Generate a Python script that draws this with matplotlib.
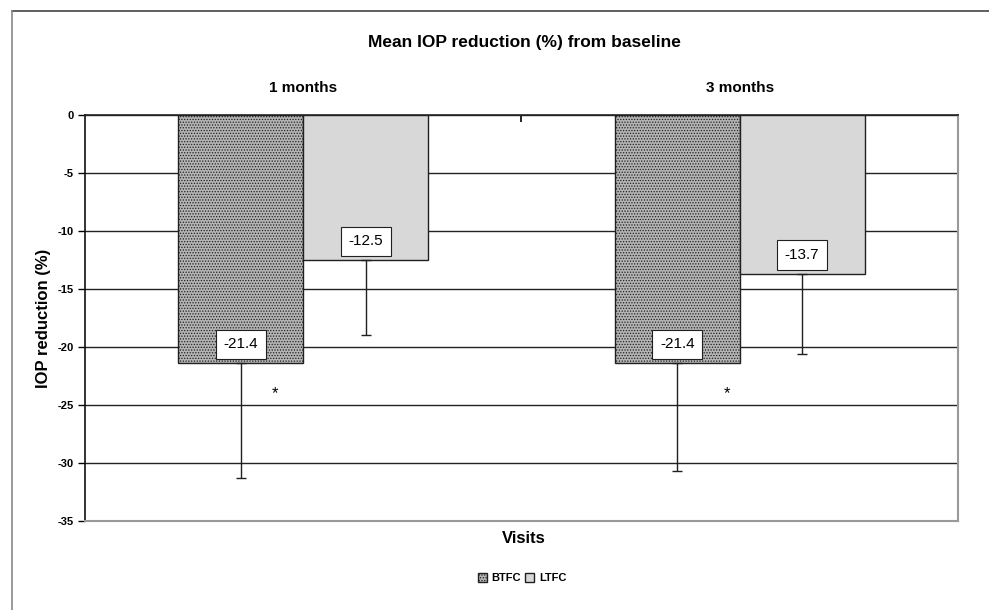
import matplotlib.pyplot as plt
from matplotlib.lines import Line2D

plt.rcParams['font.family'] = ['Liberation Sans', 'DejaVu Sans']
plt.rcParams['hatch.linewidth'] = 0.6

visits = ['1 months', '3 months']
btfc = [-21.4, -21.4]
ltfc = [-12.5, -13.7]
btfc_err = [9.9, 9.3]
ltfc_err = [6.5, 6.9]
star_y = [-24.0, -24.0]
yticks = [0, -5, -10, -15, -20, -25, -30, -35]

fig = plt.figure(figsize=(9.89, 6.10), dpi=100)
ax = fig.add_axes([0.0859, 0.1459, 0.8827, 0.6656])

w = 0.286
x = [0, 1]
xb = [i - w / 2 for i in x]
xl = [i + w / 2 for i in x]

ax.bar(xb, btfc, width=w, facecolor='#b4b4b4', edgecolor='#202020',
       hatch='......', linewidth=1.0, zorder=3, label='BTFC')
ax.bar(xl, ltfc, width=w, facecolor='#d8d8d8', edgecolor='#202020',
       linewidth=1.0, zorder=3, label='LTFC')

ax.errorbar(xb, btfc, yerr=[btfc_err, [0, 0]], fmt='none', ecolor='#202020',
            elinewidth=1.0, capsize=3.5, capthick=1.0, zorder=4)
ax.errorbar(xl, ltfc, yerr=[ltfc_err, [0, 0]], fmt='none', ecolor='#202020',
            elinewidth=1.0, capsize=3.5, capthick=1.0, zorder=4)

# value boxes
for xs, vals in [(xb, btfc), (xl, ltfc)]:
    for xi, v in zip(xs, vals):
        ax.annotate(f'{v}', (xi, v), xytext=(0, 8.5), textcoords='offset points',
                    ha='center', va='bottom', fontsize=11, zorder=5,
                    bbox=dict(boxstyle='square,pad=0.5', fc='white', ec='#202020', lw=0.8))

# significance stars
ax.text(-0.065, star_y[0], '*', ha='center', va='center', fontsize=12, zorder=5)
ax.text(0.97, star_y[1], '*', ha='center', va='center', fontsize=12, zorder=5)

ax.set_xlim(-0.5, 1.5)
ax.set_ylim(-35, 0)
ax.set_yticks(yticks)
ax.set_yticklabels([str(t) for t in yticks], fontsize=8, fontweight='bold')
ax.yaxis.grid(True, color='#222222', linewidth=1.0, zorder=0)
ax.set_axisbelow(True)
ax.tick_params(axis='y', length=5, width=1.0, direction='out', pad=3)

# category labels on top, divider tick between them
ax.xaxis.tick_top()
ax.set_xticks([0.5])
ax.set_xticklabels([''])
ax.tick_params(axis='x', direction='in', length=5, width=1.2)
for xi, lab in zip(x, visits):
    ax.text(xi, 1.066, lab, transform=ax.get_xaxis_transform(), ha='center',
            va='center', fontsize=11, fontweight='bold')

ax.spines['left'].set_color('#111111')
ax.spines['left'].set_linewidth(1.2)
ax.spines['top'].set_color('#222222')
ax.spines['top'].set_linewidth(1.2)
ax.spines['right'].set_color('#999999')
ax.spines['right'].set_linewidth(1.5)
ax.spines['bottom'].set_color('#999999')
ax.spines['bottom'].set_linewidth(1.5)

ax.set_ylabel('IOP reduction (%)', fontsize=12, fontweight='bold', labelpad=5)
fig.text(0.53, 0.931, 'Mean IOP reduction (%) from baseline', ha='center',
         va='center', fontsize=12.5, fontweight='bold')
fig.text(0.53, 0.118, 'Visits', ha='center', va='center', fontsize=12,
         fontweight='bold')

leg = fig.legend(loc='center', bbox_to_anchor=(0.528, 0.052), ncol=2, frameon=False,
                 fontsize=8, handlelength=0.8, handleheight=0.8, handletextpad=0.4,
                 columnspacing=0.4)
for t in leg.get_texts():
    t.set_fontweight('bold')

# outer frame (top and left edges)
fig.add_artist(Line2D([12 / 989, 1], [1 - 11 / 610, 1 - 11 / 610], color='#444444', lw=1.2))
fig.add_artist(Line2D([12 / 989, 12 / 989], [0, 1 - 11 / 610], color='#888888', lw=1.2))

fig.savefig('out.png', dpi=100)
